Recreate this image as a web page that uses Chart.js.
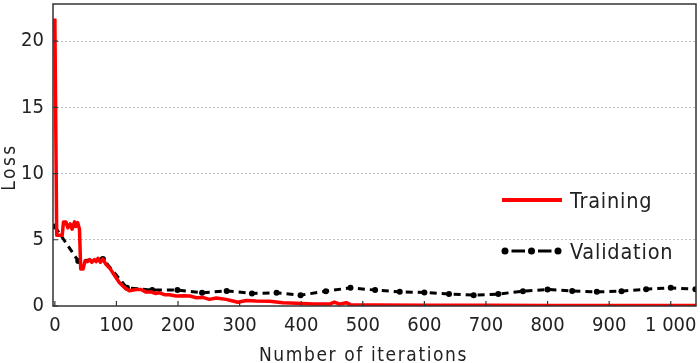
<!DOCTYPE html>
<html>
<head>
<meta charset="utf-8">
<script src="https://cdn.jsdelivr.net/npm/chart.js@4"></script>
<style>
  html, body { margin: 0; padding: 0; background: #fff; }
  #lossChart { display: block; }
</style>
</head>
<body>
<canvas id="lossChart" width="700" height="363"></canvas>
<script>
// --- data ---
const trainIter = [0, 3, 12, 14, 18, 21, 25, 28, 32, 34, 37, 40, 42, 46, 49, 53, 56, 60, 64, 67, 70, 74, 78, 83, 90, 97,
    105, 113, 121, 132, 140, 148, 157, 163, 170, 178, 186, 197, 210, 219, 230, 240, 251, 262, 278, 289, 297,
    311, 327, 349, 370, 392, 420, 446, 454, 462, 473, 480, 520, 600, 700, 800, 900, 1041];
const trainLoss = [21.7, 5.35, 5.35, 6.35, 6.35, 5.9, 6.2, 5.8, 6.35, 6.0, 6.3, 5.8, 2.8, 2.8, 3.4, 3.35, 3.5, 3.3, 3.5, 3.35, 3.6, 3.3, 3.55, 3.15, 2.8, 2.3,
    1.75, 1.4, 1.15, 1.25, 1.25, 1.05, 1.05, 0.95, 1.0, 0.85, 0.85, 0.75, 0.78, 0.75, 0.62, 0.65, 0.5, 0.6, 0.5, 0.38, 0.28,
    0.42, 0.37, 0.35, 0.25, 0.2, 0.15, 0.15, 0.3, 0.14, 0.25, 0.1, 0.08, 0.06, 0.05, 0.04, 0.03, 0.03];

const validIter = [0, 38, 78, 117, 158, 199, 239, 279, 320, 360, 399, 440, 480, 520, 560, 600, 640, 680, 720, 760, 800, 840, 880, 920, 960, 1000, 1040];
const validLoss = [6.0, 3.4, 3.55, 1.37, 1.2, 1.2, 1.0, 1.14, 0.95, 1.0, 0.82, 1.12, 1.37, 1.2, 1.07, 1.02, 0.9, 0.82, 0.9, 1.12, 1.25, 1.14, 1.07, 1.12, 1.27, 1.37, 1.27];

const xTicks = [0, 100, 200, 300, 400, 500, 600, 700, 800, 900, 1000];
const xTickLabels = ['0', '100', '200', '300', '400', '500', '600', '700', '800', '900', '1 000'];
const yTicks = [0, 5, 10, 15, 20];

const xTitle = 'Number of iterations';
const yTitle = 'Loss';
const seriesNames = ['Training', 'Validation'];

const FONT = '"DejaVu Sans Condensed", "Liberation Sans Narrow", "Liberation Sans", sans-serif';
const INK = '#222';

function toPoints(xs, ys) {
    return xs.map((x, i) => ({ x: x, y: ys[i] }));
}

// frame + inward tick marks
const framePlugin = {
    id: 'frame',
    afterDraw(chart) {
        const { ctx, chartArea: a, scales } = chart;
        ctx.save();
        ctx.strokeStyle = '#333';
        ctx.lineWidth = 1.5;
        ctx.strokeRect(a.left, a.top, a.right - a.left, a.bottom - a.top);
        ctx.lineWidth = 1.2;
        ctx.beginPath();
        xTicks.forEach(v => {
            const px = scales.x.getPixelForValue(v);
            ctx.moveTo(px, a.bottom);
            ctx.lineTo(px, a.bottom - 5);
        });
        yTicks.forEach(v => {
            const py = scales.y.getPixelForValue(v);
            ctx.moveTo(a.left, py);
            ctx.lineTo(a.left + 5, py);
        });
        ctx.stroke();
        ctx.restore();
    }
};

// axis titles (drawn by hand so the wide letter spacing of the original can be kept)
const titlesPlugin = {
    id: 'axisTitles',
    afterDraw(chart) {
        const { ctx, chartArea: a } = chart;
        ctx.save();
        ctx.fillStyle = INK;
        ctx.textAlign = 'center';
        ctx.textBaseline = 'alphabetic';
        ctx.font = '19px ' + FONT;
        ctx.letterSpacing = '1.6px';
        ctx.fillText(xTitle, (a.left + a.right) / 2 - 11, 361);

        ctx.letterSpacing = '2.5px';
        ctx.translate(15, (a.top + a.bottom) / 2 + 12);
        ctx.rotate(-Math.PI / 2);
        ctx.fillText(yTitle, 0, 0);
        ctx.restore();
    }
};

// legend drawn inside the plot like the original
const legendPlugin = {
    id: 'insideLegend',
    afterDraw(chart) {
        const ctx = chart.ctx;
        ctx.save();
        ctx.strokeStyle = '#ff0000';
        ctx.lineWidth = 4;
        ctx.beginPath();
        ctx.moveTo(502, 200);
        ctx.lineTo(562, 200);
        ctx.stroke();

        const dots = [505, 531.5, 558];
        ctx.strokeStyle = '#000';
        ctx.lineWidth = 3;
        ctx.beginPath();
        for (let i = 0; i < dots.length - 1; i++) {
            ctx.moveTo(dots[i] + 6.5, 251);
            ctx.lineTo(dots[i + 1] - 6.5, 251);
        }
        ctx.stroke();
        ctx.fillStyle = '#000';
        dots.forEach(cx => {
            ctx.beginPath();
            ctx.arc(cx, 251, 3.5, 0, Math.PI * 2);
            ctx.fill();
        });

        ctx.fillStyle = INK;
        ctx.font = '21.5px ' + FONT;
        ctx.textBaseline = 'alphabetic';
        ctx.letterSpacing = '0.8px';
        ctx.fillText(seriesNames[0], 570, 207.5);
        ctx.fillText(seriesNames[1], 570, 258.5);
        ctx.restore();
    }
};

const ctx = document.getElementById('lossChart').getContext('2d');
new Chart(ctx, {
    type: 'line',
    data: {
        datasets: [{
            label: seriesNames[1],
            data: toPoints(validIter, validLoss),
            borderColor: '#000',
            backgroundColor: '#000',
            borderWidth: 3,
            borderDash: [7, 5],
            pointRadius: 3,
            pointBorderWidth: 0,
            tension: 0,
            order: 2
        }, {
            label: seriesNames[0],
            data: toPoints(trainIter, trainLoss),
            borderColor: '#ff0000',
            borderWidth: 3.5,
            pointRadius: 0,
            tension: 0,
            borderJoinStyle: 'round',
            order: 1
        }]
    },
    options: {
        responsive: false,
        animation: false,
        layout: { padding: { top: 1, right: 3, left: 0, bottom: 0 } },
        plugins: { legend: { display: false }, tooltip: { enabled: false } },
        scales: {
            x: {
                type: 'linear',
                min: -3,
                max: 1041,
                afterBuildTicks: s => { s.ticks = xTicks.map(v => ({ value: v })); },
                afterFit: s => { s.height = 57; s.paddingLeft = 0; s.paddingRight = 0; },
                grid: { display: false, drawTicks: false },
                border: { display: false },
                ticks: {
                    padding: 8,
                    maxRotation: 0,
                    autoSkip: false,
                    color: INK,
                    font: { family: FONT, size: 20 },
                    callback: v => xTickLabels[xTicks.indexOf(v)]
                }
            },
            y: {
                min: 0,
                max: 22.8,
                afterBuildTicks: s => { s.ticks = yTicks.map(v => ({ value: v })); },
                afterFit: s => { s.width = 53; s.paddingTop = 0; s.paddingBottom = 0; },
                grid: {
                    drawTicks: false,
                    lineWidth: 1,
                    color: c => (c.tick && c.tick.value === 0) ? 'rgba(0,0,0,0)' : '#c0c0c0'
                },
                border: { display: false, dash: [2, 2] },
                ticks: {
                    padding: 9,
                    color: INK,
                    font: { family: FONT, size: 20 }
                }
            }
        }
    },
    plugins: [framePlugin, titlesPlugin, legendPlugin]
});
</script>
</body>
</html>
